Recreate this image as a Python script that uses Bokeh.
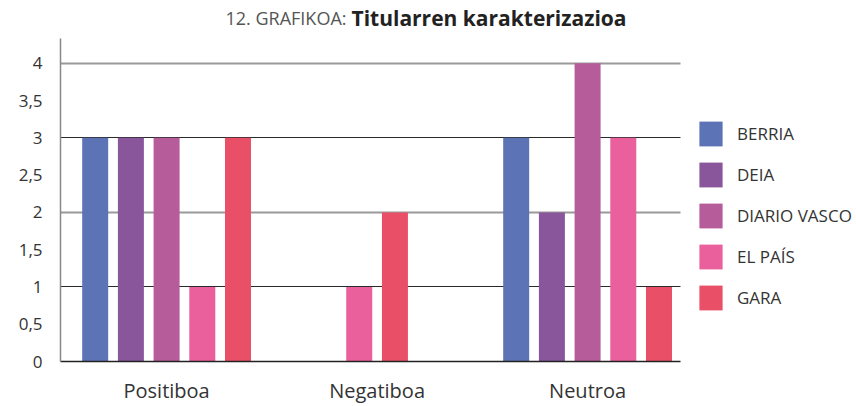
from bokeh.plotting import figure
from bokeh.models import Legend, LegendItem, FixedTicker, Grid, Label, Range1d, ColumnDataSource
from bokeh.embed import file_html
from bokeh.resources import INLINE

categories = ["Positiboa", "Negatiboa", "Neutroa"]
series = ["BERRIA", "DEIA", "DIARIO VASCO", "EL PAÍS", "GARA"]
berria = [3, 0, 3]
deia = [3, 0, 2]
diario_vasco = [3, 0, 4]
el_pais = [1, 1, 3]
gara = [3, 2, 1]
colors = ["#5C73B5", "#89559B", "#B75C9B", "#EA609D", "#E95067"]
y_ticks = [0, 0.5, 1, 1.5, 2, 2.5, 3, 3.5, 4]
y_tick_labels = ["0", "0,5", "1", "1,5", "2", "2,5", "3", "3,5", "4"]
grid_dark = [1, 3]
grid_light = [2, 4]
title_regular = "12. GRAFIKOA:"
title_bold = "Titularren karakterizazioa"

values = [berria, deia, diario_vasco, el_pais, gara]
FONT = "Open Sans"
TXT = "#333333"

W, H = 856, 406
ML, MB = 60, 44
x_lo, x_hi = -0.504, 2.441          # extent of the drawn axis area
px_per_unit = 210.5
x_end = x_lo + (W - ML) / px_per_unit
y_hi = 4.33
y_end = (H - MB) / 74.75

p = figure(width=W, height=H, output_backend="svg", toolbar_location=None,
           x_range=Range1d(x_lo, x_end), y_range=Range1d(0, y_end),
           min_border_left=ML, min_border_right=0, min_border_top=0, min_border_bottom=MB)
p.outline_line_color = None
p.background_fill_color = "white"

pitch = 0.1696
bw = 0.1235
xs = [[] for _ in series]
tops = [[] for _ in series]
for ci in range(len(categories)):
    nz = [si for si in range(len(series)) if values[si][ci] > 0]
    for k, si in enumerate(nz):
        xs[si].append(ci + (k - (len(nz) - 1) / 2) * pitch)
        tops[si].append(values[si][ci])

items = []
for si, name in enumerate(series):
    src = ColumnDataSource(dict(x=xs[si], top=tops[si]))
    r = p.vbar(x="x", top="top", bottom=0, width=bw, source=src,
               fill_color=colors[si], line_color=None)
    items.append(LegendItem(label=name, renderers=[r]))

# grids
p.xgrid.visible = False
p.ygrid.ticker = FixedTicker(ticks=grid_dark)
p.ygrid.grid_line_color = "#2a2a2a"
p.ygrid.grid_line_width = 1.2
p.ygrid.cross_bounds = (x_lo, x_hi)
g2 = Grid(dimension=1, ticker=FixedTicker(ticks=grid_light),
          grid_line_color="#999999", grid_line_width=1.8, cross_bounds=(x_lo, x_hi))
p.add_layout(g2)

# x axis
xa = p.xaxis[0]
xa.bounds = (x_lo, x_hi)
xa.ticker = FixedTicker(ticks=list(range(len(categories))))
xa.major_label_overrides = {i: c for i, c in enumerate(categories)}
xa.major_tick_line_color = None
xa.minor_tick_line_color = None
xa.major_tick_out = 0
xa.axis_line_color = "#222222"
xa.axis_line_width = 1.5
xa.major_label_standoff = 15
xa.major_label_text_font = FONT
xa.major_label_text_font_size = "20px"
xa.major_label_text_color = TXT

# y axis
ya = p.yaxis[0]
ya.bounds = (0, y_hi)
ya.ticker = FixedTicker(ticks=y_ticks)
ya.major_label_overrides = {t: l for t, l in zip(y_ticks, y_tick_labels)}
ya.major_tick_line_color = None
ya.minor_tick_line_color = None
ya.major_tick_out = 0
ya.axis_line_color = "#888888"
ya.axis_line_width = 1.5
ya.major_label_standoff = 18
ya.major_label_text_font = FONT
ya.major_label_text_font_size = "17px"
ya.major_label_text_color = TXT

# legend: location is the bottom-left corner, measured from the frame's bottom-left
glyph_w, glyph_h, gap = 29, 31, 10
leg_h = len(series) * glyph_h + (len(series) - 1) * gap
leg_top = 119
legend = Legend(items=items, location=(636, (H - MB) - (leg_top + leg_h)), orientation="vertical",
                glyph_width=glyph_w, glyph_height=glyph_h, spacing=gap, label_standoff=12,
                padding=0, margin=0, border_line_color=None, background_fill_alpha=0,
                label_text_font=FONT, label_text_font_size="17px", label_text_color=TXT,
                label_text_baseline="middle")
p.add_layout(legend)

t1 = Label(x=346 - ML, y=H - MB - 18, x_units="screen", y_units="screen", text=title_regular,
           text_align="right", text_baseline="middle", text_font=FONT,
           text_font_size="18px", text_color="#555555")
t2 = Label(x=351 - ML, y=H - MB - 18, x_units="screen", y_units="screen", text=title_bold,
           text_align="left", text_baseline="middle", text_font=FONT,
           text_font_size="21px", text_font_style="bold", text_color="#222222")
p.add_layout(t1)
p.add_layout(t2)

open("out.html", "w").write(file_html(p, INLINE))
